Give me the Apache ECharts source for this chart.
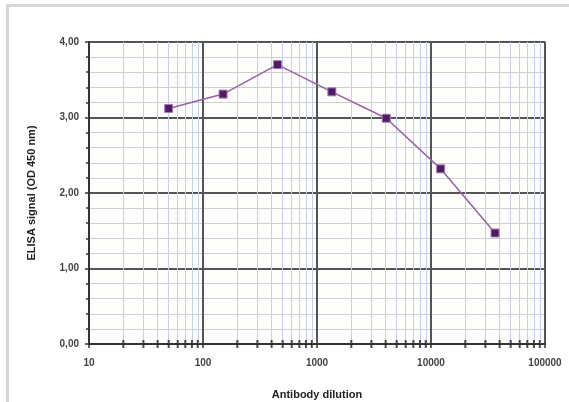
<!DOCTYPE html>
<html>
<head>
<meta charset="utf-8">
<script src="https://cdn.jsdelivr.net/npm/echarts@6/dist/echarts.min.js"></script>
<style>
html,body{margin:0;padding:0;background:#fff;}
#frame{position:absolute;left:6px;top:4px;width:563px;height:398px;border-left:3px solid #d6d6d6;border-top:3px solid #d6d6d6;}
#chart{position:absolute;left:0;top:0;width:569px;height:402px;}
</style>
</head>
<body>
<div id="frame"></div>
<div id="chart"></div>
<script>
const dilutions = [50, 150, 450, 1350, 4050, 12150, 36450];
const signal = [3.12, 3.31, 3.70, 3.34, 2.99, 2.32, 1.47];
const decades = [10, 100, 1000, 10000];
const minorMultipliers = [2, 3, 4, 5, 6, 7, 8, 9];
const xName = 'Antibody dilution';
const yName = 'ELISA signal (OD 450 nm)';

const minors = [];
decades.forEach(d => minorMultipliers.forEach(m => minors.push(d * m)));

const chart = echarts.init(document.getElementById('chart'));
chart.setOption({
  animation: false,
  grid: {left: 89, right: 24, top: 42, bottom: 58, show: true, borderColor: '#8a8a8a', borderWidth: 1.5,
    backgroundColor: '#fdfdfb', containLabel: false, outerBoundsMode: 'none'},
  xAxis: {
    type: 'log', logBase: 10, min: 10, max: 100000,
    name: xName, nameLocation: 'middle', nameGap: 45,
    nameTextStyle: {fontFamily: 'Liberation Sans', fontWeight: 'bold', fontSize: 11, color: '#222'},
    axisLine: {show: true, lineStyle: {color: '#333', width: 2}},
    axisTick: {show: true, length: 4, lineStyle: {color: '#333', width: 1.5}},
    axisLabel: {fontFamily: 'Liberation Sans', fontWeight: 'bold', fontSize: 10, color: '#444', margin: 14,
      formatter: v => String(Math.round(v))},
    splitLine: {show: true, lineStyle: {color: '#555', width: 2}},
    minorTick: {show: false}, minorSplitLine: {show: false}
  },
  yAxis: {
    type: 'value', min: 0, max: 4, interval: 1,
    name: yName, nameLocation: 'middle', nameGap: 52, nameRotate: 90,
    nameTextStyle: {fontFamily: 'Liberation Sans', fontWeight: 'bold', fontSize: 11, color: '#222'},
    axisLine: {show: true, lineStyle: {color: '#333', width: 2}},
    axisTick: {show: true, length: 4, lineStyle: {color: '#333', width: 1.5}},
    minorTick: {show: true, splitNumber: 5, length: 3, lineStyle: {color: '#333', width: 1.5}},
    axisLabel: {fontFamily: 'Liberation Sans', fontWeight: 'bold', fontSize: 10, color: '#444', margin: 10,
      formatter: v => v.toFixed(2).replace('.', ',')},
    splitLine: {show: true, lineStyle: {color: '#555', width: 2}},
    minorSplitLine: {show: true, lineStyle: {color: '#d0d0d0', width: 1}}
  },
  series: [
    {
      type: 'line', data: dilutions.map((d, i) => [d, signal[i]]),
      symbol: 'rect', symbolSize: 8,
      lineStyle: {color: '#9860a6', width: 1.5},
      itemStyle: {color: '#4e1c63', borderColor: '#a878b8', borderWidth: 1},
      z: 5,
      markLine: {
        silent: true, symbol: 'none', label: {show: false},
        lineStyle: {color: '#c8cfee', width: 1, type: 'solid'},
        data: minors.map(v => ({xAxis: v}))
      }
    },
    {
      type: 'scatter', data: minors.map(v => [v, 0]), silent: true, clip: false,
      symbol: 'rect', symbolSize: [2, 8], itemStyle: {color: '#222'}, z: 6
    }
  ]
});
</script>
</body>
</html>
